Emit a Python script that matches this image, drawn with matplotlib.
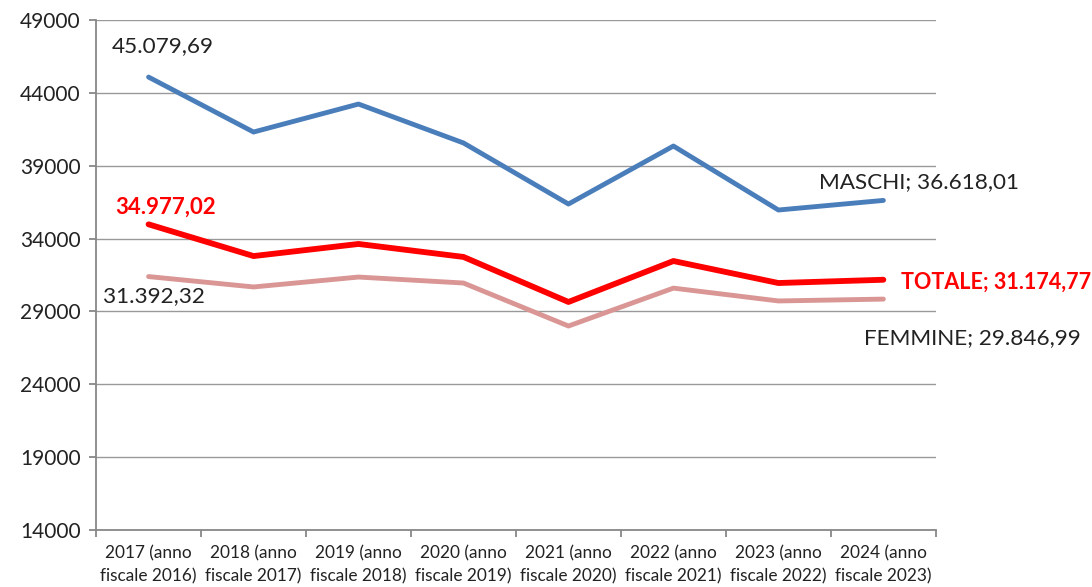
import matplotlib
matplotlib.use("Agg")
import matplotlib.pyplot as plt
import numpy as np

plt.rcParams['font.family'] = ['Lato', 'DejaVu Sans']

# Reddito medio per anno di dichiarazione
anni = ["2017 (anno\nfiscale 2016)", "2018 (anno\nfiscale 2017)", "2019 (anno\nfiscale 2018)",
        "2020 (anno\nfiscale 2019)", "2021 (anno\nfiscale 2020)", "2022 (anno\nfiscale 2021)",
        "2023 (anno\nfiscale 2022)", "2024 (anno\nfiscale 2023)"]
maschi = [45079.69, 41310, 43230, 40560, 36370, 40350, 35960, 36618.01]
totale = [34977.02, 32800, 33630, 32740, 29650, 32460, 30950, 31174.77]
femmine = [31392.32, 30680, 31360, 30950, 28000, 30600, 29720, 29846.99]
y_ticks = [14000, 19000, 24000, 29000, 34000, 39000, 44000, 49000]


def fmt_it(v):
    s = f"{v:,.2f}"
    return s.replace(",", "X").replace(".", ",").replace("X", ".")


fig = plt.figure(figsize=(10.92, 5.87), dpi=100)
ax = fig.add_axes([0.088, 0.097, 0.769, 0.869])

x = np.arange(len(anni))
ax.plot(x, femmine, color="#D99694", lw=3.5, solid_capstyle="round", zorder=3)
ax.plot(x, maschi, color="#4A7EBB", lw=3.5, solid_capstyle="round", zorder=4)
ax.plot(x, totale, color="#FF0000", lw=4.2, solid_capstyle="round", zorder=5)

ax.set_xlim(-0.5, len(anni) - 0.5)
ax.set_ylim(y_ticks[0], y_ticks[-1])
ax.set_yticks(y_ticks)
ax.set_yticklabels([str(t) for t in y_ticks], fontsize=15, color="#222222")
ax.set_xticks(x)
ax.set_xticklabels(anni, fontsize=12.4, color="#222222", linespacing=1.55)
ax.set_xticks(np.arange(-0.5, len(anni)), minor=True)
ax.tick_params(axis="x", which="major", length=0, pad=11)
ax.tick_params(axis="x", which="minor", length=5, color="#888888", width=1.3)
ax.tick_params(axis="y", length=5, color="#888888", width=1.3, pad=6)

ax.grid(axis="y", color="#999999", lw=1)
ax.set_axisbelow(True)
for side in ["top", "right"]:
    ax.spines[side].set_visible(False)
for side in ["left", "bottom"]:
    ax.spines[side].set_color("#888888")
    ax.spines[side].set_linewidth(1.3)

# etichette dei valori iniziali e finali
lbl = dict(textcoords="offset points", annotation_clip=False, va="center")
last = len(anni) - 1
ax.annotate(fmt_it(maschi[0]), (0, maschi[0]), xytext=(10, 22), ha="center", color="#222222",
            fontsize=16.2, **lbl)
ax.annotate(fmt_it(totale[0]), (0, totale[0]), xytext=(12, 12), ha="center", color="#FF0000",
            fontweight="bold", fontsize=16, **lbl)
ax.annotate(fmt_it(femmine[0]), (0, femmine[0]), xytext=(4, -14), ha="center", color="#222222",
            fontsize=16.2, **lbl)
ax.annotate("MASCHI; " + fmt_it(maschi[last]), (last, maschi[last]), xytext=(-46, 13), ha="left",
            color="#222222", fontsize=16.2, **lbl)
ax.annotate("TOTALE; " + fmt_it(totale[last]), (last, totale[last]), xytext=(13, -2), ha="left",
            color="#FF0000", fontweight="bold", fontsize=15.5, **lbl)
ax.annotate("FEMMINE; " + fmt_it(femmine[last]), (last, femmine[last]), xytext=(-14, -28), ha="left",
            color="#222222", fontsize=16.2, **lbl)

fig.savefig("out.png", dpi=100)
